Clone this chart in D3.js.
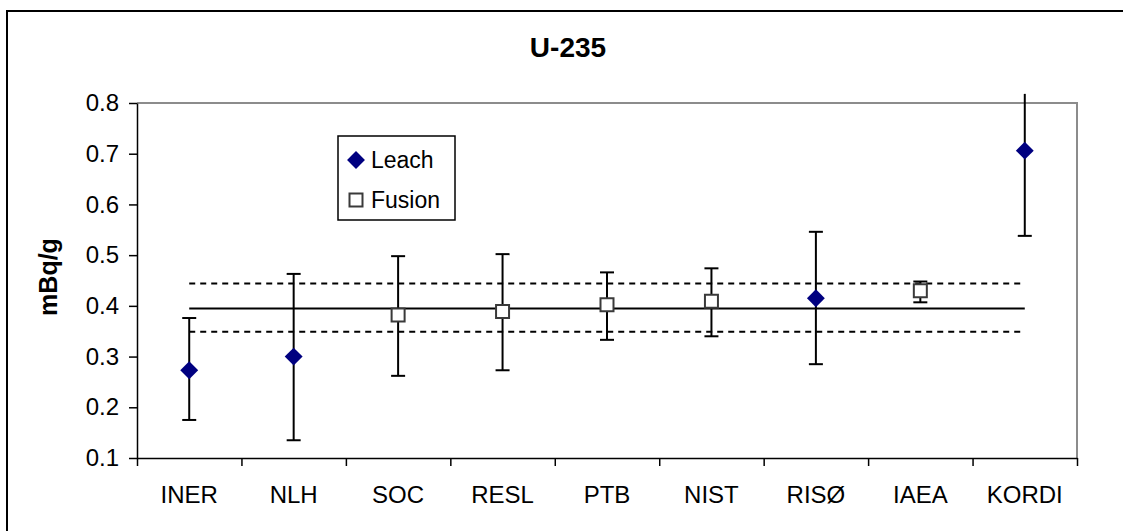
<!DOCTYPE html>
<html>
<head>
<meta charset="utf-8">
<script src="https://cdn.jsdelivr.net/npm/d3@7"></script>
<style>
  html, body { margin: 0; padding: 0; background: #fff; }
  svg { display: block; font-family: "Liberation Sans", Arial, sans-serif; }
</style>
</head>
<body>
<svg id="chart" width="1125" height="531"></svg>
<script>
// ---- data ----
const categories = ["INER", "NLH", "SOC", "RESL", "PTB", "NIST", "RISØ", "IAEA", "KORDI"];
const methods    = ["Leach", "Leach", "Fusion", "Fusion", "Fusion", "Fusion", "Leach", "Fusion", "Leach"];
const values     = [0.273, 0.300, 0.382, 0.389, 0.402, 0.409, 0.415, 0.430, 0.706];
const lowerErr   = [0.175, 0.135, 0.262, 0.273, 0.333, 0.340, 0.285, 0.407, 0.538];
const upperErr   = [0.376, 0.463, 0.498, 0.502, 0.466, 0.474, 0.546, 0.448, 0.875];
const refMean = 0.395;
const refLow  = 0.349;
const refHigh = 0.444;
const errClipTop = 0.818;
const yTicks = [0.1, 0.2, 0.3, 0.4, 0.5, 0.6, 0.7, 0.8];
const legendItems = ["Leach", "Fusion"];
const titleText = "U-235";
const yTitle = "mBq/g";

// ---- layout ----
const svg = d3.select("#chart");
const plot = { left: 137, right: 1077, top: 103, bottom: 458 };

const x = d3.scaleBand().domain(categories).range([plot.left, plot.right]);
const xb = d3.scaleLinear().domain([0, categories.length]).range([plot.left, plot.right]);
const y = d3.scaleLinear().domain([0.1, 0.8]).range([plot.bottom, plot.top]);
const cx = c => x(c) + x.bandwidth() / 2;

// outer chart border (left & top)
svg.append("path")
  .attr("d", `M7,531 L7,11 L1123,11`)
  .attr("fill", "none").attr("stroke", "#000").attr("stroke-width", 2);

// plot area frame (top & right, gray)
svg.append("path")
  .attr("d", `M${plot.left},${plot.top} L${plot.right},${plot.top} L${plot.right},${plot.bottom}`)
  .attr("fill", "none").attr("stroke", "#8c8c8c").attr("stroke-width", 2);

// reference lines
const x0 = cx(categories[0]), x1 = cx(categories[categories.length - 1]);
svg.append("line")
  .attr("x1", x0).attr("x2", x1).attr("y1", y(refMean)).attr("y2", y(refMean))
  .attr("stroke", "#000").attr("stroke-width", 2);
[refLow, refHigh].forEach(v => {
  svg.append("line")
    .attr("x1", x0).attr("x2", x1 - 4).attr("y1", y(v)).attr("y2", y(v))
    .attr("stroke", "#000").attr("stroke-width", 2).attr("stroke-dasharray", "6,5");
});

// y axis
const yAxis = svg.append("g")
  .attr("transform", `translate(${plot.left},0)`)
  .call(d3.axisLeft(y).tickValues(yTicks).tickFormat(d3.format(".1f")).tickSize(8).tickSizeOuter(0).tickPadding(10));
yAxis.select(".domain").attr("stroke", "#000").attr("stroke-width", 1.5);
yAxis.selectAll(".tick line").attr("stroke", "#000").attr("stroke-width", 1.5);
yAxis.selectAll(".tick text").attr("font-size", 24).attr("fill", "#000")
  .attr("font-family", "Liberation Sans, Arial, sans-serif");

// x axis: boundary ticks
const xTickAxis = svg.append("g")
  .attr("transform", `translate(0,${plot.bottom})`)
  .call(d3.axisBottom(xb).tickValues(d3.range(categories.length + 1)).tickFormat("").tickSize(8).tickSizeOuter(0));
xTickAxis.select(".domain").attr("stroke", "#000").attr("stroke-width", 1.5);
xTickAxis.selectAll(".tick line").attr("stroke", "#000").attr("stroke-width", 1.5);

// x axis: category labels
const xLabelAxis = svg.append("g")
  .attr("transform", `translate(0,${plot.bottom})`)
  .call(d3.axisBottom(x).tickSize(0).tickPadding(28));
xLabelAxis.select(".domain").remove();
xLabelAxis.selectAll(".tick text").attr("font-size", 24).attr("fill", "#000")
  .attr("font-family", "Liberation Sans, Arial, sans-serif");

// error bars
const capHalf = 7;
const rows = categories.map((c, i) => ({ c, m: methods[i], v: values[i], lo: lowerErr[i], hi: upperErr[i] }));
const eb = svg.append("g").attr("stroke", "#000").attr("stroke-width", 2);
rows.forEach(d => {
  const xc = cx(d.c);
  const clipped = d.hi > errClipTop;
  const yTop = clipped ? y(errClipTop) : y(d.hi);
  eb.append("line").attr("x1", xc).attr("x2", xc).attr("y1", yTop).attr("y2", y(d.lo));
  if (!clipped) eb.append("line").attr("x1", xc - capHalf).attr("x2", xc + capHalf).attr("y1", y(d.hi)).attr("y2", y(d.hi));
  eb.append("line").attr("x1", xc - capHalf).attr("x2", xc + capHalf).attr("y1", y(d.lo)).attr("y2", y(d.lo));
});

// markers
const diamond = d3.symbol(d3.symbolSquare, 160);
const square = d3.symbol(d3.symbolSquare, 169);
function drawMarker(g, m, px, py) {
  if (m === "Leach") {
    g.append("path").attr("d", diamond())
      .attr("transform", `translate(${px},${py}) rotate(45)`)
      .attr("fill", "#000080");
  } else {
    g.append("path").attr("d", square())
      .attr("transform", `translate(${px},${py})`)
      .attr("fill", "#fff").attr("stroke", "#3a3a3a").attr("stroke-width", 2);
  }
}
const mk = svg.append("g");
rows.forEach(d => drawMarker(mk, d.m, cx(d.c), y(d.v)));

// legend
const lg = svg.append("g");
lg.append("rect").attr("x", 338).attr("y", 136).attr("width", 117).attr("height", 84)
  .attr("fill", "#fff").attr("stroke", "#000").attr("stroke-width", 1.5);
legendItems.forEach((name, i) => {
  const ly = 160 + i * 40;
  drawMarker(lg, name, 356, ly);
  lg.append("text").attr("x", 371).attr("y", ly + 8)
    .attr("font-size", 23).attr("fill", "#000").text(name);
});

// titles
svg.append("text").attr("x", 568).attr("y", 57).attr("text-anchor", "middle")
  .attr("font-size", 28).attr("font-weight", "bold").attr("fill", "#000").text(titleText);
svg.append("text").attr("transform", `translate(57,277) rotate(-90)`)
  .attr("text-anchor", "middle").attr("font-size", 25).attr("font-weight", "bold")
  .attr("fill", "#000").text(yTitle);
</script>
</body>
</html>
